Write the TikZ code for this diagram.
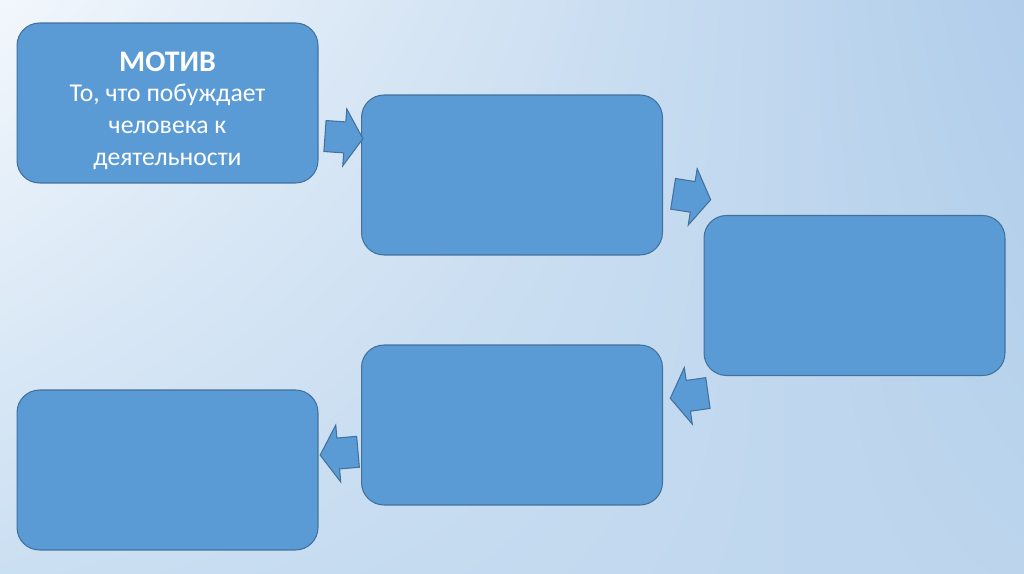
\documentclass[tikz,border=0pt]{standalone}
\usepackage{fontspec}
\setmainfont{Carlito}
\usepackage{xcolor}
\usetikzlibrary{shapes.arrows, shadings, positioning}
\definecolor{boxblue}{RGB}{91,155,213}
\definecolor{boxedge}{RGB}{65,113,156}
\definecolor{bgul}{RGB}{242,247,252}
\definecolor{bgur}{RGB}{176,205,234}
\definecolor{bgll}{RGB}{203,223,242}
\definecolor{bglr}{RGB}{188,213,237}

\begin{document}
\begin{tikzpicture}[x=0.02cm, y=-0.02cm,
    box/.style={draw=boxedge, fill=boxblue, line width=0.6pt, rounded corners=0.45cm,
                minimum width=6.02cm, minimum height=3.2cm, inner sep=0pt, text=white},
    barrow/.style={single arrow, draw=boxedge, fill=boxblue, line width=0.6pt,
                   minimum height=0.76cm, minimum width=1.12cm, inner xsep=0pt, inner ysep=0.3cm,
                   single arrow head extend=0.26cm, single arrow tip angle=115}]
  \useasboundingbox (0,0) rectangle (1024,574);
  \shade[upper left=bgul, upper right=bgur, lower left=bgll, lower right=bglr]
    (0,0) rectangle (1024,574);

  \node[box, align=center, font=\fontsize{14.6}{18}\selectfont] (m1) at (167.5,103)
    {\rule{0pt}{20pt}{\fontsize{17}{17}\selectfont\bfseries МОТИВ}\\[-1pt]То, что побуждает\\человека к\\деятельности};
  \node[box] (m2) at (512,175) {};
  \node[box] (m3) at (854.5,295.5) {};
  \node[box] (m4) at (512,425) {};
  \node[box] (m5) at (167.5,470) {};

  \node[barrow, rotate=-4] (a1) at (339,137) {};
  \node[barrow, rotate=-9] (a2) at (687,196) {};
  \node[barrow, rotate=188] (a3) at (694,395) {};
  \node[barrow, rotate=185] (a4) at (344,453) {};
\end{tikzpicture}
\end{document}
